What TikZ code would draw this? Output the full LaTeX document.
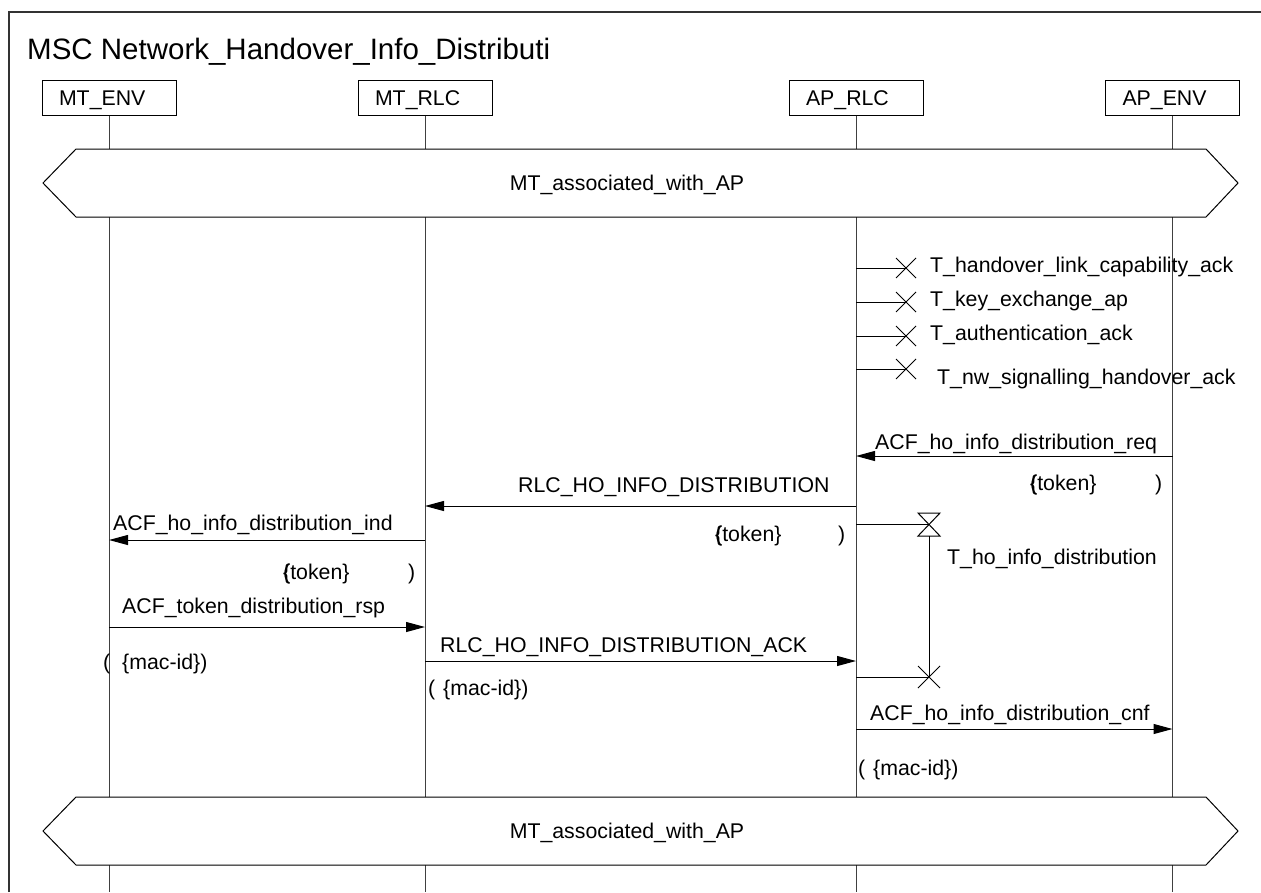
\documentclass[tikz,border=0pt]{standalone}
\usepackage{fontspec}
\setmainfont{Liberation Sans}
\usetikzlibrary{arrows.meta}
\newcommand\fsz{\fontsize{21.3}{25}\selectfont}
\begin{document}
\begin{tikzpicture}[x=1pt,y=-1pt,
  lbl/.style={font=\fsz, inner sep=0pt, anchor=base west},
  head/.style={draw, line width=1pt, font=\fsz, minimum width=134pt, minimum height=35pt,
    inner ysep=0pt, inner xsep=17pt, text width=100pt, align=left, text height=15.3pt, text depth=0pt},
  life/.style={line width=1pt, black!75},
  msg/.style={line width=1pt, -{Triangle[length=19pt,width=10pt]}},
  tline/.style={line width=1pt},
  cond/.style={draw, line width=1pt, fill=white},
  frame/.style={line width=1.2pt, black!80}]
\useasboundingbox (0,0) rectangle (1261,892);
\draw[frame] (9,892) -- (9,12) -- (1261,12);
\node[lbl, font=\fontsize{29.5}{34}\selectfont] (title) at (27,59) {MSC Network\_Handover\_Info\_Distributi};

% instance heads
\node[head] (mtenv) at (109,97.5) {MT\_ENV};
\node[head] (mtrlc) at (425,97.5) {MT\_RLC};
\node[head] (aprlc) at (856,97.5) {AP\_RLC};
\node[head] (apenv) at (1172.5,97.5) {AP\_ENV};

% lifelines
\coordinate (mtenv-end) at (109,892);
\coordinate (mtrlc-end) at (425,892);
\coordinate (aprlc-end) at (856,892);
\coordinate (apenv-end) at (1172.5,892);
\draw[life] (mtenv.south) -- (mtenv-end);
\draw[life] (mtrlc.south) -- (mtrlc-end);
\draw[life] (aprlc.south) -- (aprlc-end);
\draw[life] (apenv.south) -- (apenv-end);

% conditions
\draw[cond] (76,149) -- (1206,149) -- (1238,183) -- (1206,217) -- (76,217) -- (43,183) -- cycle;
\node[lbl, anchor=base] (cond1) at (627,190.5) {MT\_associated\_with\_AP};
\draw[cond] (76,797) -- (1206,797) -- (1238,831) -- (1206,865) -- (76,865) -- (43,831) -- cycle;
\node[lbl, anchor=base] (cond2) at (627,838.5) {MT\_associated\_with\_AP};

% timers stopped
\coordinate (t1s) at (856,268); \coordinate (t1x) at (906,268);
\draw[tline] (t1s) -- (t1x);
\draw[tline] (896,258) -- (916,278) (896,278) -- (916,258);
\node[lbl] (t1l) at (930,272) {T\_handover\_link\_capability\_ack};

\coordinate (t2s) at (856,302); \coordinate (t2x) at (906,302);
\draw[tline] (t2s) -- (t2x);
\draw[tline] (896,292) -- (916,312) (896,312) -- (916,292);
\node[lbl] (t2l) at (930,306) {T\_key\_exchange\_ap};

\coordinate (t3s) at (856,336); \coordinate (t3x) at (906,336);
\draw[tline] (t3s) -- (t3x);
\draw[tline] (896,326) -- (916,346) (896,346) -- (916,326);
\node[lbl] (t3l) at (930,340) {T\_authentication\_ack};

\coordinate (t4s) at (856,369); \coordinate (t4x) at (906,369);
\draw[tline] (t4s) -- (t4x);
\draw[tline] (896,359) -- (916,379) (896,379) -- (916,359);
\node[lbl] (t4l) at (937,384) {T\_nw\_signalling\_handover\_ack};

% ACF_ho_info_distribution_req
\coordinate (reqs) at (1172.5,456); \coordinate (reqe) at (856,456);
\draw[msg] (reqs) -- (reqe);
\node[lbl] (reql) at (875,449) {ACF\_ho\_info\_distribution\_req};
\node[lbl] (reqp1) at (1030,490) {\{token\}};
\node[lbl] (reqp0) at (1030,490) {(};
\node[lbl] (reqp2) at (1155,490) {)};

% RLC_HO_INFO_DISTRIBUTION
\coordinate (rlcs) at (856,506); \coordinate (rlce) at (425,506);
\draw[msg] (rlcs) -- (rlce);
\node[lbl] (rlcl) at (518,492) {RLC\_HO\_INFO\_DISTRIBUTION};
\node[lbl] (rlcp1) at (715,541) {\{token\}};
\node[lbl] (rlcp0) at (715,541) {(};
\node[lbl] (rlcp2) at (838,541) {)};

% timer T_ho_info_distribution
\coordinate (ths) at (856,524.5); \coordinate (thx) at (929,524.5);
\coordinate (thb) at (929,536); \coordinate (the) at (929,677);
\coordinate (tes) at (856,677);
\draw[tline] (ths) -- (thx);
\draw[tline] (918,513) -- (940,513) -- (918,536) -- (940,536) -- cycle;
\draw[tline] (thb) -- (the);
\draw[tline] (tes) -- (the);
\draw[tline] (918,666) -- (940,688) (918,688) -- (940,666);
\node[lbl] (thl) at (947,564) {T\_ho\_info\_distribution};

% ACF_ho_info_distribution_ind
\coordinate (inds) at (425,540); \coordinate (inde) at (109,540);
\draw[msg] (inds) -- (inde);
\node[lbl] (indl) at (113,530) {ACF\_ho\_info\_distribution\_ind};
\node[lbl] (indp1) at (283,579) {\{token\}};
\node[lbl] (indp0) at (283,579) {(};
\node[lbl] (indp2) at (408,579) {)};

% ACF_token_distribution_rsp
\coordinate (rsps) at (109,627); \coordinate (rspe) at (425,627);
\draw[msg] (rsps) -- (rspe);
\node[lbl] (rspl) at (122,613) {ACF\_token\_distribution\_rsp};
\node[lbl] (rspp0) at (103,669) {(};
\node[lbl] (rspp1) at (122,669) {\{mac-id\})};

% RLC_HO_INFO_DISTRIBUTION_ACK
\coordinate (acks) at (425,661); \coordinate (acke) at (856,661);
\draw[msg] (acks) -- (acke);
\node[lbl] (ackl) at (440,652) {RLC\_HO\_INFO\_DISTRIBUTION\_ACK};
\node[lbl] (ackp0) at (428,695) {(};
\node[lbl] (ackp1) at (443,695) {\{mac-id\})};

% ACF_ho_info_distribution_cnf
\coordinate (cnfs) at (856,729); \coordinate (cnfe) at (1172.5,729);
\draw[msg] (cnfs) -- (cnfe);
\node[lbl] (cnfl) at (870,720) {ACF\_ho\_info\_distribution\_cnf};
\node[lbl] (cnfp0) at (858,775) {(};
\node[lbl] (cnfp1) at (873,775) {\{mac-id\})};
\end{tikzpicture}
\end{document}
